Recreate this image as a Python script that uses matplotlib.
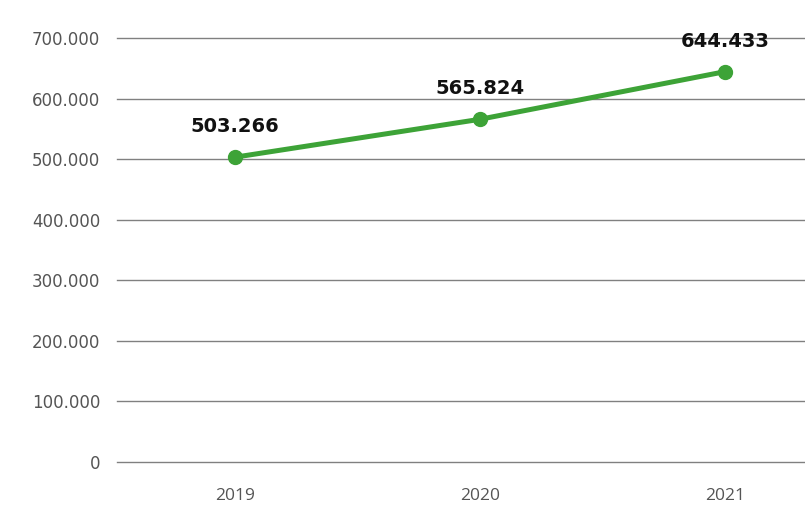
import matplotlib

matplotlib.use("Agg")
import matplotlib.pyplot as plt
from matplotlib.ticker import FuncFormatter

years = ["2019", "2020", "2021"]
values = [503266, 565824, 644433]
y_ticks = [0, 100000, 200000, 300000, 400000, 500000, 600000, 700000]

GREEN = "#3da337"
GRID = "#808080"


def thousands(v, _pos):
    # dot as thousands separator, "0" stays plain
    return f"{int(v):,}".replace(",", ".")


fig = plt.figure(figsize=(8.05, 5.09), dpi=100)
ax = fig.add_axes([0.1453, 0.0923, 0.8547, 0.833])

x = list(range(len(years)))
ax.plot(x, values, "-o", color=GREEN, lw=3.6, ms=10, zorder=3, clip_on=False)

for xi, v in zip(x, values):
    ax.annotate(
        thousands(v, None),
        (xi, v),
        xytext=(0, 22),
        textcoords="offset points",
        ha="center",
        va="center",
        fontsize=14,
        fontweight="bold",
        color="#111111",
        annotation_clip=False,
    )

ax.set_ylim(0, 700000)
ax.set_xlim(-0.482, 2.327)
ax.set_yticks(y_ticks)
ax.yaxis.set_major_formatter(FuncFormatter(thousands))
ax.set_xticks(x)
ax.set_xticklabels(years, fontfamily="Open Sans", fontsize=12.5, color="#555555")

for lbl in ax.get_yticklabels():
    lbl.set_fontsize(12)
    lbl.set_color("#555555")

ax.tick_params(axis="y", length=0, pad=12)
ax.tick_params(axis="x", length=0, pad=19)
ax.grid(axis="y", color=GRID, lw=1.0)
# keep the edge gridlines (0 and 700.000) from being clipped by the axes box
for gl in ax.get_ygridlines():
    gl.set_clip_on(False)
ax.set_axisbelow(True)
for s in ax.spines.values():
    s.set_visible(False)

fig.savefig("out.png", dpi=100)
